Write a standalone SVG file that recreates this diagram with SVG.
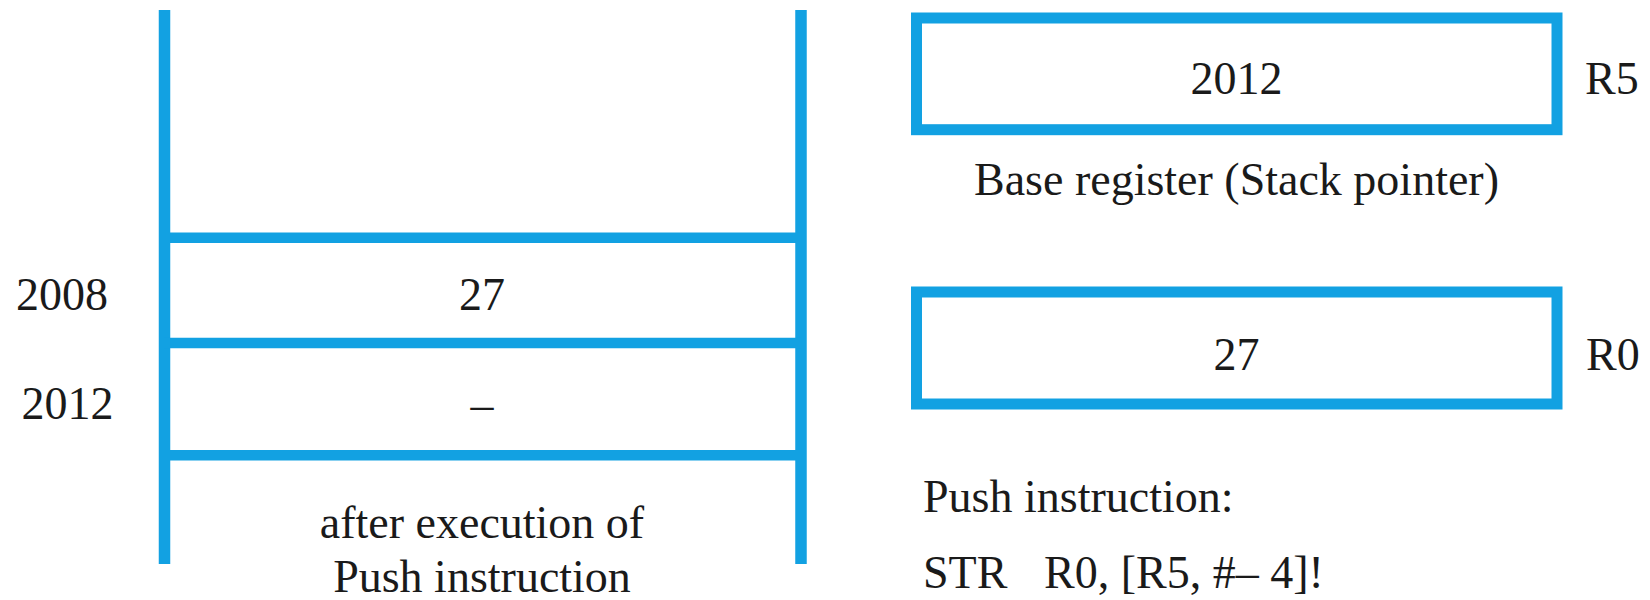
<svg xmlns="http://www.w3.org/2000/svg" width="1650" height="600" viewBox="0 0 1650 600">
  <style>
    .ln { stroke: #12a1e2; fill: none; }
    .t { font-family: "Liberation Serif", "Times New Roman", serif; font-size: 46px; fill: #1a1a1a; }
    .c { text-anchor: middle; }
  </style>
  <rect width="1650" height="600" fill="#ffffff"/>

  <!-- memory stack -->
  <g id="stack">
    <line class="ln" x1="164.5" y1="10" x2="164.5" y2="564" stroke-width="11.5"/>
    <line class="ln" x1="801" y1="10" x2="801" y2="564" stroke-width="11.5"/>
    <line class="ln" x1="164" y1="237.7" x2="801" y2="237.7" stroke-width="10.5"/>
    <line class="ln" x1="164" y1="343" x2="801" y2="343" stroke-width="10.5"/>
    <line class="ln" x1="164" y1="455.3" x2="801" y2="455.3" stroke-width="10.5"/>
    <text class="t c" x="482" y="310">27</text>
    <text class="t c" x="482" y="420">–</text>
    <text class="t c" x="482" y="538">after execution of</text>
    <text class="t c" x="482" y="591.5">Push instruction</text>
  </g>

  <!-- addresses -->
  <g id="addresses">
    <text class="t" x="16" y="310">2008</text>
    <text class="t" x="21.5" y="419">2012</text>
  </g>

  <!-- base register R5 -->
  <g id="reg-r5">
    <rect class="ln" x="916.5" y="18" width="640.5" height="111.7" stroke-width="11"/>
    <text class="t c" x="1236.5" y="94">2012</text>
    <text class="t" x="1585" y="94">R5</text>
    <text class="t c" x="1236.5" y="195">Base register (Stack pointer)</text>
  </g>

  <!-- register R0 -->
  <g id="reg-r0">
    <rect class="ln" x="916.5" y="292" width="640.5" height="112" stroke-width="11"/>
    <text class="t c" x="1236.5" y="370">27</text>
    <text class="t" x="1586" y="370">R0</text>
  </g>

  <!-- instruction -->
  <g id="instruction">
    <text class="t" x="923" y="512">Push instruction:</text>
    <text class="t" y="588"><tspan x="923">STR</tspan><tspan x="1044">R0, [R5, #– 4]!</tspan></text>
  </g>
</svg>
